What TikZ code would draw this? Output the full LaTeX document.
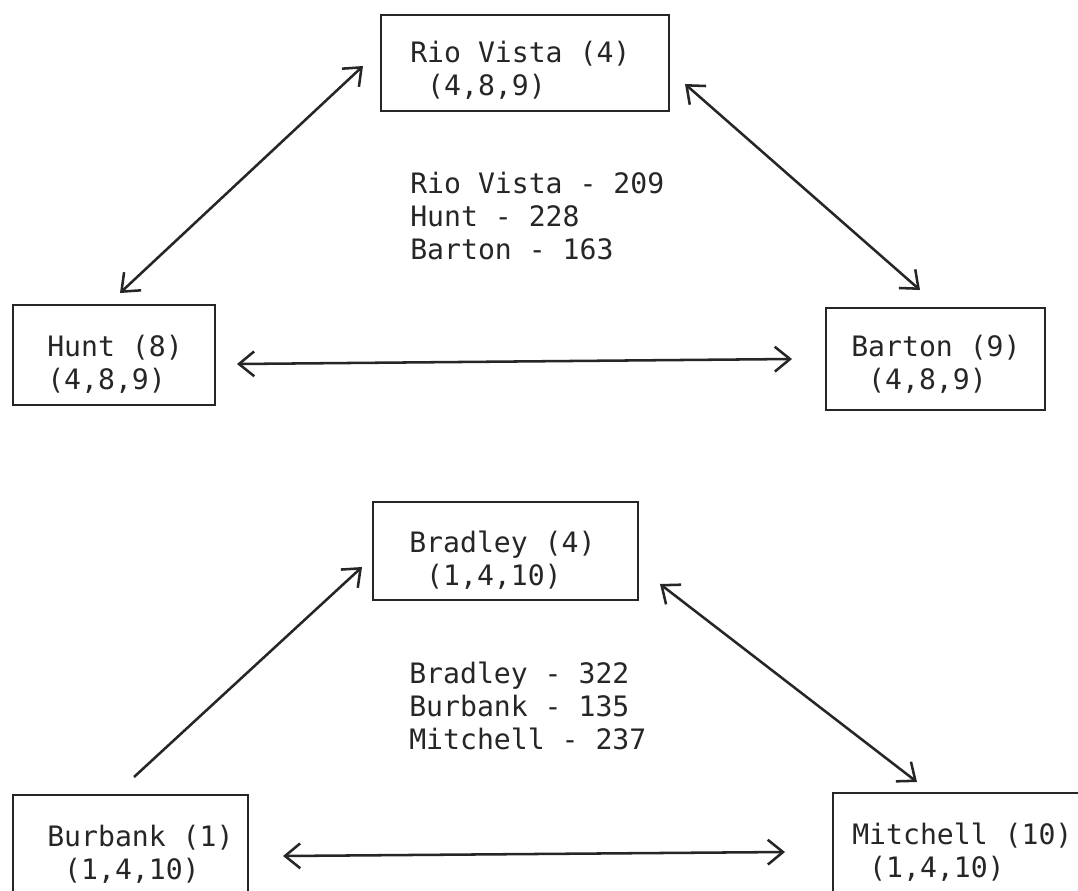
\documentclass[tikz,border=0pt]{standalone}
\usepackage{fontspec}
\newfontfamily\typewriter{DejaVu Sans Mono}
\usetikzlibrary{arrows.meta,fit}
\begin{document}
\begin{tikzpicture}[x=0.025cm,y=-0.025cm,
  box/.style={draw=black!85, line width=2.1pt, inner sep=0pt, rectangle},
  lbl/.style={inner sep=0pt, anchor=north west, align=left, text=black!85,
    font=\typewriter\fontsize{20}{23.4}\selectfont},
  conn/.style={draw=black!85, line width=1.8pt,
    arrows={Straight Barb[length=0.38cm,width=0.62cm,line width=1.8pt]-Straight Barb[length=0.38cm,width=0.62cm,line width=1.8pt]}},
  oneway/.style={draw=black!85, line width=1.8pt,
    arrows={-Straight Barb[length=0.38cm,width=0.62cm,line width=1.8pt]}}]
\useasboundingbox (0,0) rectangle (1078,890);
\clip (0,0) rectangle (1078,890);
\fill[white] (0,0) rectangle (1078,890);

% top group
\node[box, fit={(381,15) (669,111)}] (rv) {};
\node[lbl] (rvt) at (410,41) {Rio Vista (4)\\~(4,8,9)};
\node[box, fit={(13,305) (215,405)}] (hunt) {};
\node[lbl] (huntt) at (47,335) {Hunt (8)\\(4,8,9)};
\node[box, fit={(826,308) (1045,410)}] (barton) {};
\node[lbl] (bartont) at (851,335) {Barton (9)\\~(4,8,9)};
\node[lbl] (sum1) at (410,172) {Rio Vista - 209\\Hunt - 228\\Barton - 163};

\coordinate (rvL) at (363,66);
\coordinate (huntU) at (120,293);
\coordinate (rvR) at (685,84);
\coordinate (bartonU) at (920,290);
\coordinate (huntR) at (237,364);
\coordinate (bartonL) at (792,359);
\draw[conn] (rvL) -- (huntU);
\draw[conn] (rvR) -- (bartonU);
\draw[conn] (huntR) -- (bartonL);

% bottom group
\node[box, fit={(373,502) (638,600)}] (bradley) {};
\node[lbl] (bradleyt) at (409,531) {Bradley (4)\\~(1,4,10)};
\node[box, fit={(13,795) (248,920)}] (burbank) {};
\node[lbl] (burbankt) at (47,825) {Burbank (1)\\~(1,4,10)};
\node[box, fit={(833,793) (1100,920)}] (mitchell) {};
\node[lbl] (mitchellt) at (852,823) {Mitchell (10)\\~(1,4,10)};
\node[lbl] (sum2) at (409,662) {Bradley - 322\\Burbank - 135\\Mitchell - 237};

\coordinate (burbankU) at (134,777);
\coordinate (bradleyL) at (362,567);
\coordinate (bradleyR) at (660,584);
\coordinate (mitchellU) at (917,782);
\coordinate (burbankR) at (283,856);
\coordinate (mitchellL) at (785,852);
\draw[oneway] (burbankU) -- (bradleyL);
\draw[conn] (bradleyR) -- (mitchellU);
\draw[conn] (burbankR) -- (mitchellL);
\end{tikzpicture}
\end{document}
